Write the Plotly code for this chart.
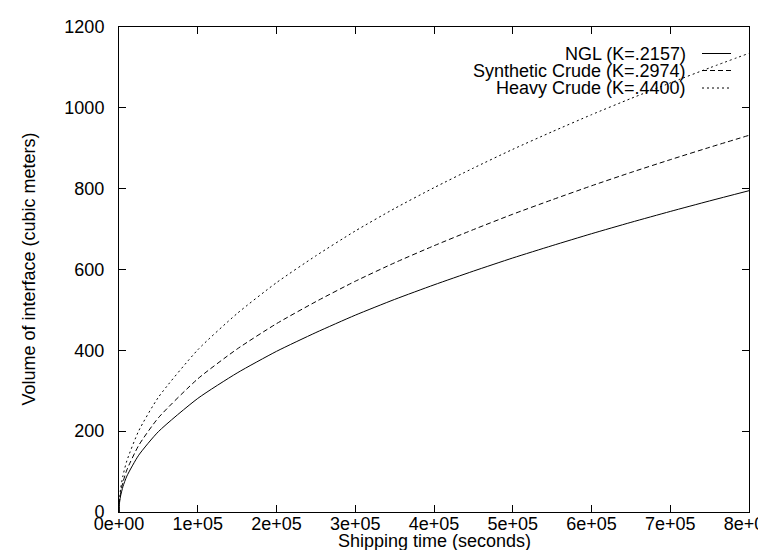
import plotly.graph_objects as go

# Shipping time (seconds)
time_s = [0, 500, 1000, 2000, 5000, 10000, 25000, 50000, 100000, 150000, 200000,
          250000, 300000, 350000, 400000, 450000, 500000, 550000, 600000,
          650000, 700000, 750000, 800000]

# Volume of interface (cubic meters)
ngl = [0, 19.9, 28.1, 39.8, 62.9, 88.9, 140.5, 198.8, 281.0, 344.0, 397.5,
       444.0, 487.0, 526.0, 562.0, 596.0, 628.5, 659.0, 688.5,
       716.6, 743.6, 769.7, 795.0]
synthetic = [0, 23.3, 32.9, 46.6, 73.7, 104.2, 164.7, 233.1, 329.4, 403.3, 466.0,
             520.5, 570.9, 616.6, 658.8, 698.7, 736.8, 772.5, 807.1,
             840.1, 871.7, 902.3, 932.0]
heavy = [0, 28.4, 40.1, 56.8, 89.8, 126.9, 200.6, 283.8, 401.2, 491.1, 567.5,
         633.9, 695.3, 751.0, 802.4, 850.9, 897.3, 940.9, 983.0,
         1023.1, 1061.6, 1098.9, 1135.0]

series_names = ["NGL (K=.2157)", "Synthetic Crude (K=.2974)", "Heavy Crude (K=.4400)"]
series_values = [ngl, synthetic, heavy]
series_dash = ["solid", "5px,3px", "2px,3px"]

x_ticks = [0, 100000, 200000, 300000, 400000, 500000, 600000, 700000, 800000]
x_tick_labels = ["0e+00", "1e+05", "2e+05", "3e+05", "4e+05", "5e+05", "6e+05", "7e+05", "8e+05"]
y_ticks = [0, 200, 400, 600, 800, 1000, 1200]

x_title = "Shipping time (seconds)"
y_title = "Volume of interface (cubic meters)"

FONT = "Liberation Sans, Arial, Helvetica, sans-serif"
FS = 18

# plot area in pixels (766x550 page)
L, R, T, B = 111, 741, 19, 504
W, H = R - L, B - T

def px_x(x):
    return (x - L) / W

def px_y(y):
    return (B - y) / H

fig = go.Figure()
for name, vals, dash in zip(series_names, series_values, series_dash):
    fig.add_trace(go.Scatter(
        x=time_s, y=vals, mode="lines", name=name,
        line=dict(color="black", width=1, dash=dash, shape="spline", smoothing=0.6),
        showlegend=False,
    ))

# gnuplot-style key: right-aligned text with line sample to its right
key_rows_y = [45.5, 62.5, 80]
for name, dash, yk in zip(series_names, series_dash, key_rows_y):
    fig.add_annotation(xref="paper", yref="paper", x=px_x(680), y=px_y(yk), text=name,
                       showarrow=False, xanchor="right", yanchor="middle",
                       font=dict(family=FONT, size=FS, color="black"))
    fig.add_shape(type="line", xref="paper", yref="paper",
                  x0=px_x(694), x1=px_x(723), y0=px_y(yk), y1=px_y(yk),
                  line=dict(color="black", width=1, dash=dash))

# axis titles
fig.add_annotation(xref="paper", yref="paper", x=0.5, y=px_y(533), text=x_title,
                   showarrow=False, xanchor="center", yanchor="middle",
                   font=dict(family=FONT, size=FS, color="black"))
fig.add_annotation(xref="paper", yref="paper", x=px_x(20), y=0.5, text=y_title,
                   showarrow=False, xanchor="center", yanchor="middle", textangle=-90,
                   font=dict(family=FONT, size=FS, color="black"))

axis_common = dict(
    showgrid=False, zeroline=False, showline=True, linecolor="black", linewidth=1,
    mirror="ticks", ticks="inside", ticklen=7, tickcolor="black", tickwidth=1,
    tickfont=dict(family=FONT, size=FS, color="black"), ticklabeloverflow="allow",
)

fig.update_layout(
    width=766, height=550,
    margin=dict(l=L, r=766 - R, t=T, b=550 - B, autoexpand=False),
    paper_bgcolor="white", plot_bgcolor="white",
    font=dict(family=FONT, size=FS, color="black"),
    xaxis=dict(range=[0, 800000], tickvals=x_ticks, ticktext=x_tick_labels,
               ticklabelstandoff=-5, **axis_common),
    yaxis=dict(range=[0, 1200], tickvals=y_ticks, ticklabelstandoff=10,
               **axis_common),
)

fig.write_html("out.html")
